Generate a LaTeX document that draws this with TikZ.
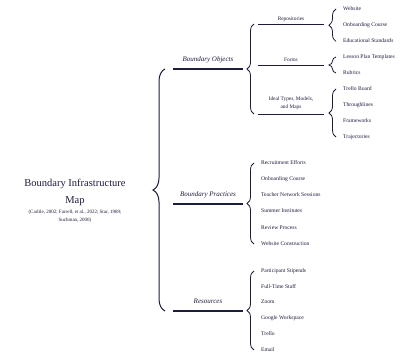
\documentclass[tikz,border=0pt]{standalone}
\usepackage{fontspec}
\setmainfont{Liberation Serif}
\usepackage{tikz}
\usetikzlibrary{decorations.pathreplacing,calc}
\definecolor{mapnavy}{RGB}{28,28,60}
\tikzset{
  mainline/.style={draw=mapnavy,line width=1.2pt},
  subline/.style={draw=mapnavy,line width=0.8pt},
  mapbrace/.style={draw=mapnavy,line width=0.8pt,decorate,
    decoration={brace,amplitude=#1}},
  maplabel/.style={font=\fontsize{7}{8}\selectfont\itshape,text=mapnavy,inner sep=0pt},
  sublabel/.style={font=\fontsize{5.3}{7.5}\selectfont,text=mapnavy,align=center,inner sep=0pt},
  itemtext/.style={font=\fontsize{5.6}{6}\selectfont,text=mapnavy,anchor=west,
    inner sep=0pt,text height=3.8pt,text depth=1.2pt},
}
\begin{document}
\begin{tikzpicture}[x=1pt,y=-1pt]
\useasboundingbox (0,0) rectangle (401,356);
% title and sources
\node[font=\fontsize{10.5}{17}\selectfont,text=mapnavy,align=center,inner sep=0pt]
  (title) at (75,192) {Boundary Infrastructure\\Map};
\node[font=\fontsize{5}{8}\selectfont,text=mapnavy,align=center,inner sep=0pt]
  (sources) at (75,216)
  {(Carlile, 2002; Farrell, et al., 2022; Star, 1989;\\
   Suchman, 2000)};
% main brace and first level
\coordinate (bo-w) at (173,69);  \coordinate (bo-e) at (243,69);
\coordinate (bp-w) at (173,204); \coordinate (bp-e) at (243,204);
\coordinate (rs-w) at (173,311); \coordinate (rs-e) at (243,311);
\draw[mapbrace=12pt,line width=1pt] ($(rs-w)+(-8,0)$) -- ($(bo-w)+(-8,0)$);
\draw[mainline] (bo-w) -- (bo-e)
  node[maplabel,midway,yshift=9pt] (bo) {Boundary Objects};
\draw[mainline] (bp-w) -- (bp-e)
  node[maplabel,midway,yshift=9pt] (bp) {Boundary Practices};
\draw[mainline] (rs-w) -- (rs-e)
  node[maplabel,midway,yshift=10pt] (rs) {Resources};
% boundary objects, second level
\coordinate (rep-w) at (258,24);  \coordinate (rep-e) at (324,24);
\coordinate (frm-w) at (258,65);  \coordinate (frm-e) at (324,65);
\coordinate (idl-w) at (258,114); \coordinate (idl-e) at (324,114);
\draw[mapbrace=7pt] ($(idl-w)+(-4,0)$) -- ($(rep-w)+(-4,0)$);
\draw[subline] (rep-w) -- (rep-e)
  node[sublabel,midway,yshift=5pt] (rep) {Repositories};
\draw[subline] (frm-w) -- (frm-e)
  node[sublabel,midway,yshift=5pt] (frm) {Forms};
\draw[subline] (idl-w) -- (idl-e)
  node[sublabel,midway,yshift=11pt] (idl) {Ideal Types, Models,\\and Maps};
% items
\foreach \txt [count=\i] in {Website,Onboarding Course,Educational Standards}
  \node[itemtext] (rep-\i) at (343,{9+16.2*(\i-1)}) {\txt};
\foreach \txt [count=\i] in {Lesson Plan Templates,Rubrics}
  \node[itemtext] (frm-\i) at (343,{57+16*(\i-1)}) {\txt};
\foreach \txt [count=\i] in {Trello Board,Throughlines,Frameworks,Trajectories}
  \node[itemtext] (idl-\i) at (343,{89+16*(\i-1)}) {\txt};
\foreach \txt [count=\i] in {Recruitment Efforts,Onboarding Course,Teacher Network Sessions,
    Summer Institutes,Review Process,Website Construction}
  \node[itemtext] (bp-\i) at (261,{163+16.2*(\i-1)}) {\txt};
\foreach \txt [count=\i] in {Participant Stipends,Full-Time Staff,Zoom,
    Google Workspace,Trello,Email}
  \node[itemtext] (rs-\i) at (261,{271+15.8*(\i-1)}) {\txt};
% item braces
\draw[mapbrace=7pt] ($(rep-3.west)+(-7,0)$) -- ($(rep-1.west)+(-7,0)$);
\draw[mapbrace=7pt] ($(frm-2.west)+(-7,0)$) -- ($(frm-1.west)+(-7,0)$);
\draw[mapbrace=7pt] ($(idl-4.west)+(-7,0)$) -- ($(idl-1.west)+(-7,0)$);
\draw[mapbrace=7pt] ($(bp-6.west)+(-7,0)$) -- ($(bp-1.west)+(-7,0)$);
\draw[mapbrace=7pt] ($(rs-6.west)+(-7,0)$) -- ($(rs-1.west)+(-7,0)$);
\end{tikzpicture}
\end{document}
